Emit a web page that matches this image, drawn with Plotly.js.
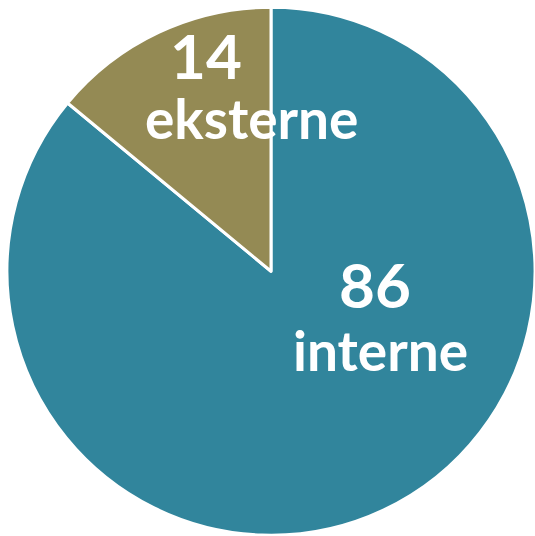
<!DOCTYPE html>
<html>
<head>
<meta charset="utf-8">
<script src="https://cdn.plot.ly/plotly-3.0.1.min.js"></script>
<style>html,body{margin:0;padding:0;background:#fff;}#chart{width:535px;height:536px;}</style>
</head>
<body>
<div id="chart"></div>
<script>
const categories = ["interne", "eksterne"];
const values = [86, 14];
const colors = ["#31859C", "#948A54"];

const W = 535, H = 536;
const fontFam = "Lato, 'Open Sans', sans-serif";

// label anchor positions in pixels (for annotations)
const labelPos = [
  {num: [375, 284], name: [380, 350]},
  {num: [206, 55], name: [251, 118]}
];

const annotations = [];
categories.forEach((c, i) => {
  annotations.push({
    x: labelPos[i].num[0] / W, y: 1 - labelPos[i].num[1] / H,
    xref: "paper", yref: "paper", xanchor: "center", yanchor: "middle",
    text: "<b>" + values[i] + "</b>", showarrow: false,
    font: {family: fontFam, size: 62, color: "#ffffff"}
  });
  annotations.push({
    x: labelPos[i].name[0] / W, y: 1 - labelPos[i].name[1] / H,
    xref: "paper", yref: "paper", xanchor: "center", yanchor: "middle",
    text: "<b>" + c + "</b>", showarrow: false,
    font: {family: fontFam, size: 55, color: "#ffffff"}
  });
});

const data = [{
  type: "pie",
  labels: categories,
  values: values,
  sort: false,
  direction: "clockwise",
  rotation: 0,
  textinfo: "none",
  hoverinfo: "none",
  marker: {colors: colors, line: {color: "#ffffff", width: 3}},
  domain: {x: [7 / W, 1], y: [0.5 / H, 1 - 7 / H]},
  showlegend: false
}];

const layout = {
  width: W, height: H,
  margin: {l: 0, r: 0, t: 0, b: 0, pad: 0},
  paper_bgcolor: "#ffffff",
  showlegend: false,
  annotations: annotations
};

Plotly.newPlot("chart", data, layout, {displayModeBar: false, staticPlot: true});
</script>
</body>
</html>
